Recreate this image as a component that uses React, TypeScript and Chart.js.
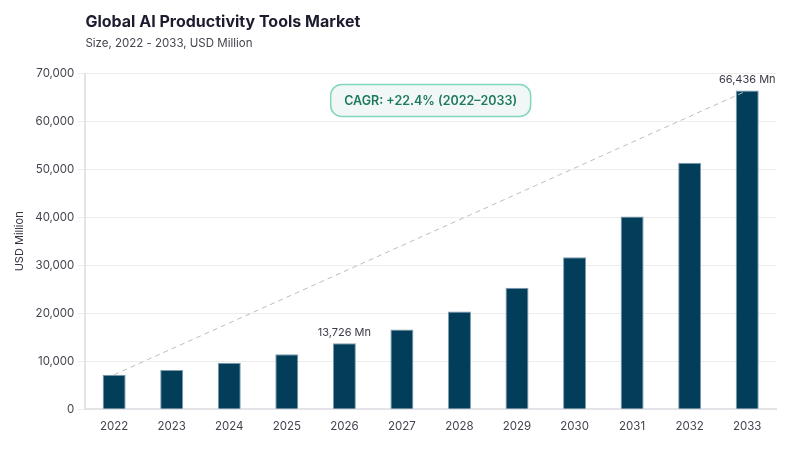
import { useEffect, useRef } from 'react';
import { Chart, registerables } from 'chart.js';

Chart.register(...registerables);

const years = ['2022', '2023', '2024', '2025', '2026', '2027', '2028', '2029', '2030', '2031', '2032', '2033'];
const marketSize = [7193, 8200, 9660, 11470, 13726, 16600, 20350, 25300, 31700, 40200, 51400, 66436];
// dashed trend line joins first and last year only
const trendLine = [7193, null, null, null, null, null, null, null, null, null, null, 66436];
const labeledYears = ['2026', '2033'];
const cagrText = 'CAGR: +22.4% (2022\u20132033)';

const FONT = 'Inter, "Open Sans", sans-serif';

const annotationPlugin = {
  id: 'annotations',
  afterDatasetsDraw(chart: Chart) {
    const ctx = chart.ctx;
    const meta = chart.getDatasetMeta(1);
    const area = chart.chartArea;

    // value labels above selected bars
    ctx.save();
    ctx.font = `400 11px ${FONT}`;
    ctx.fillStyle = '#3a3a48';
    ctx.textAlign = 'center';
    ctx.textBaseline = 'bottom';
    labeledYears.forEach(year => {
      const i = years.indexOf(year);
      const bar = meta.data[i] as any;
      if (!bar) return;
      ctx.fillText(`${marketSize[i].toLocaleString('en-US')} Mn`, bar.x, bar.y - 5);
    });
    ctx.restore();

    // CAGR badge
    ctx.save();
    ctx.font = `600 12.5px ${FONT}`;
    const w = 200;
    const h = 32;
    const cx = (area.left + area.right) / 2;
    const x = cx - w / 2;
    const y = area.top + 11;
    ctx.beginPath();
    ctx.roundRect(x, y, w, h, 11);
    ctx.fillStyle = '#f1f6f6';
    ctx.fill();
    ctx.lineWidth = 1.5;
    ctx.strokeStyle = '#82d6bd';
    ctx.stroke();
    ctx.fillStyle = '#1d7a5b';
    ctx.textAlign = 'center';
    ctx.textBaseline = 'middle';
    ctx.fillText(cagrText, cx, y + h / 2 + 1);
    ctx.restore();
  }
};

export default function App() {
  const chartRef = useRef<HTMLCanvasElement>(null);
  const chartInstanceRef = useRef<Chart | null>(null);

  useEffect(() => {
    if (!chartRef.current) return;
    const ctx = chartRef.current.getContext('2d');
    if (!ctx) return;

    if (chartInstanceRef.current) {
      chartInstanceRef.current.destroy();
    }

    const axisColor = '#e3e3e8';
    const gridColor = '#ededed';
    const tickColor = '#444450';

    chartInstanceRef.current = new Chart(ctx, {
      type: 'bar',
      data: {
        labels: years,
        datasets: [
          {
            type: 'line',
            label: 'Trend',
            data: trendLine,
            borderColor: '#bdbdbd',
            borderWidth: 1,
            borderDash: [5, 4],
            pointRadius: 0,
            spanGaps: true,
            fill: false,
            order: 0
          } as any,
          {
            type: 'bar',
            label: 'Market Size',
            data: marketSize,
            backgroundColor: '#023e5a',
            borderColor: '#7f9caf',
            borderWidth: 1,
            barPercentage: 0.4,
            categoryPercentage: 1,
            order: 1
          }
        ]
      },
      options: {
        responsive: true,
        maintainAspectRatio: false,
        animation: false,
        layout: {
          padding: { top: 13, right: 24, bottom: 7, left: 13 }
        },
        plugins: {
          legend: { display: false },
          tooltip: { enabled: false },
          title: {
            display: true,
            text: 'Global AI Productivity Tools Market',
            align: 'start',
            fullSize: false,
            color: '#1c1c2e',
            font: { family: FONT, size: 16, weight: 'bold' },
            padding: { top: 0, bottom: 4 }
          },
          subtitle: {
            display: true,
            text: 'Size, 2022 - 2033, USD Million',
            align: 'start',
            fullSize: false,
            color: '#444450',
            font: { family: FONT, size: 11.5 },
            padding: { top: 0, bottom: 23.5 }
          }
        },
        scales: {
          x: {
            grid: { display: true, color: 'transparent', drawTicks: false },
            border: { display: true, color: axisColor, width: 2 },
            ticks: { color: tickColor, font: { family: FONT, size: 11.5 }, padding: 10 }
          },
          y: {
            min: 0,
            max: 70000,
            ticks: {
              stepSize: 10000,
              color: tickColor,
              font: { family: FONT, size: 11.5 },
              padding: 3,
              callback: (v: any) => Number(v).toLocaleString('en-US')
            },
            grid: { color: gridColor, tickLength: 8 },
            border: { display: true, color: axisColor, width: 2 },
            title: {
              display: true,
              text: 'USD Million',
              color: '#333340',
              font: { family: FONT, size: 11 },
              padding: { top: 0, bottom: 6 }
            }
          }
        }
      },
      plugins: [annotationPlugin]
    });

    return () => {
      if (chartInstanceRef.current) {
        chartInstanceRef.current.destroy();
        chartInstanceRef.current = null;
      }
    };
  }, []);

  return (
    <div style={{ position: 'absolute', left: 0, top: 0, width: 800, height: 450, background: '#ffffff' }}>
      <canvas ref={chartRef} />
    </div>
  );
}
